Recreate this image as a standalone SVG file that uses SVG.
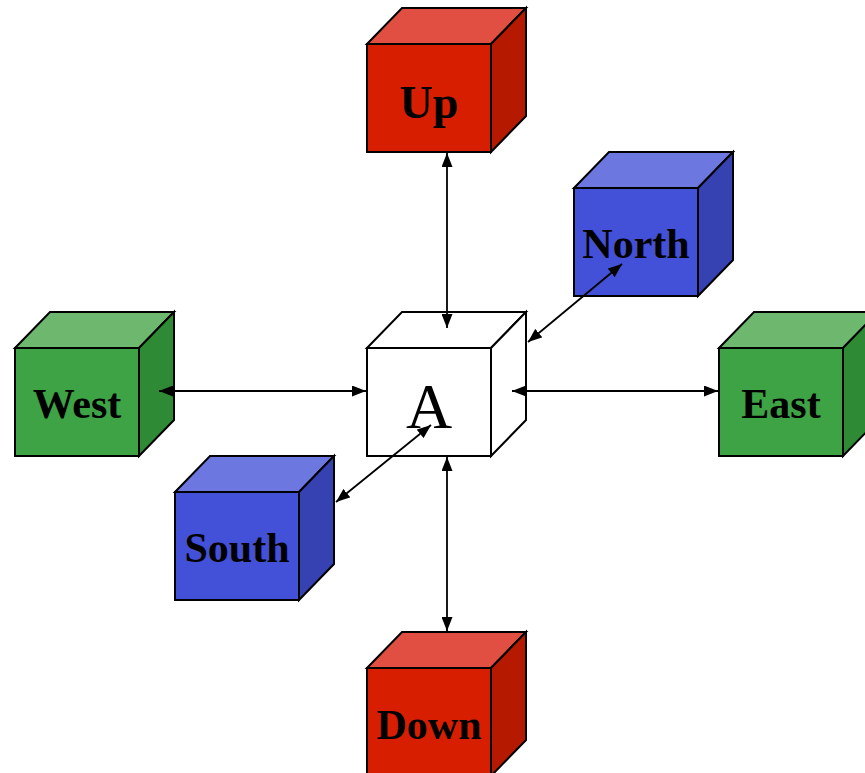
<svg xmlns="http://www.w3.org/2000/svg" width="865" height="773" viewBox="0 0 865 773">
<style>
  .e{stroke:#000;stroke-width:2;stroke-linejoin:miter}
  .rf{fill:#D81E00}.rt{fill:#E14E42}.rr{fill:#B51A00}
  .gf{fill:#3DA345}.gt{fill:#6DB76F}.gr{fill:#2E8A34}
  .bf{fill:#4350D8}.bt{fill:#6D77E0}.br{fill:#3641B2}
  .wf{fill:#fff}
  .lbl{font-family:"Liberation Serif","Times New Roman",serif;font-weight:bold;font-size:42px;text-anchor:middle;fill:#000}
  .big{font-family:"Liberation Serif","Times New Roman",serif;font-size:64px;text-anchor:middle;fill:#000}
  .c{stroke:#000;stroke-width:1.8;fill:none;marker-start:url(#ah);marker-end:url(#ah)}
</style>
<defs>
  <marker id="ah" viewBox="0 0 14 11" refX="14" refY="5.5" markerWidth="14" markerHeight="11" markerUnits="userSpaceOnUse" orient="auto-start-reverse">
    <path d="M0,0 L14,5.5 L0,11 Z" fill="#000"/>
  </marker>
</defs>
<g id="up">
  <polygon class="e rt" points="367,44 402,8 526,8 491,44"/>
  <polygon class="e rr" points="491,44 526,8 526,116 491,152"/>
  <rect class="e rf" x="367" y="44" width="124" height="108"/>
  <text class="lbl" x="429" y="118" style="font-size:46px">Up</text>
</g>
<g id="north">
  <polygon class="e bt" points="574,188 609,152 733,152 698,188"/>
  <polygon class="e br" points="698,188 733,152 733,260 698,296"/>
  <rect class="e bf" x="574" y="188" width="124" height="108"/>
  <text class="lbl" x="636" y="258">North</text>
</g>
<g id="west">
  <polygon class="e gt" points="15,348 50,312 174,312 139,348"/>
  <polygon class="e gr" points="139,348 174,312 174,420 139,456"/>
  <rect class="e gf" x="15" y="348" width="124" height="108"/>
  <text class="lbl" x="77" y="418">West</text>
</g>
<g id="a">
  <polygon class="e wf" points="367,348 402,312 526,312 491,348"/>
  <polygon class="e wf" points="491,348 526,312 526,420 491,456"/>
  <rect class="e wf" x="367" y="348" width="124" height="108"/>
  <text class="big" x="429" y="428">A</text>
</g>
<g id="east">
  <polygon class="e gt" points="719,348 754,312 878,312 843,348"/>
  <polygon class="e gr" points="843,348 878,312 878,420 843,456"/>
  <rect class="e gf" x="719" y="348" width="124" height="108"/>
  <text class="lbl" x="781" y="418">East</text>
</g>
<g id="south">
  <polygon class="e bt" points="175,492 210,456 334,456 299,492"/>
  <polygon class="e br" points="299,492 334,456 334,564 299,600"/>
  <rect class="e bf" x="175" y="492" width="124" height="108"/>
  <text class="lbl" x="237" y="562">South</text>
</g>
<g id="down">
  <polygon class="e rt" points="367,668 402,632 526,632 491,668"/>
  <polygon class="e rr" points="491,668 526,632 526,740 491,776"/>
  <rect class="e rf" x="367" y="668" width="124" height="108"/>
  <text class="lbl" x="429" y="739">Down</text>
</g>
<g id="connectors">
  <line class="c" x1="447" y1="153" x2="447" y2="328"/>
  <line class="c" x1="447" y1="457" x2="447" y2="631"/>
  <line class="c" x1="159" y1="391" x2="366" y2="391"/>
  <line class="c" x1="512" y1="391" x2="718" y2="391"/>
  <line class="c" x1="528" y1="342" x2="622" y2="264"/>
  <line class="c" x1="336" y1="502" x2="431" y2="425"/>
</g>
</svg>
